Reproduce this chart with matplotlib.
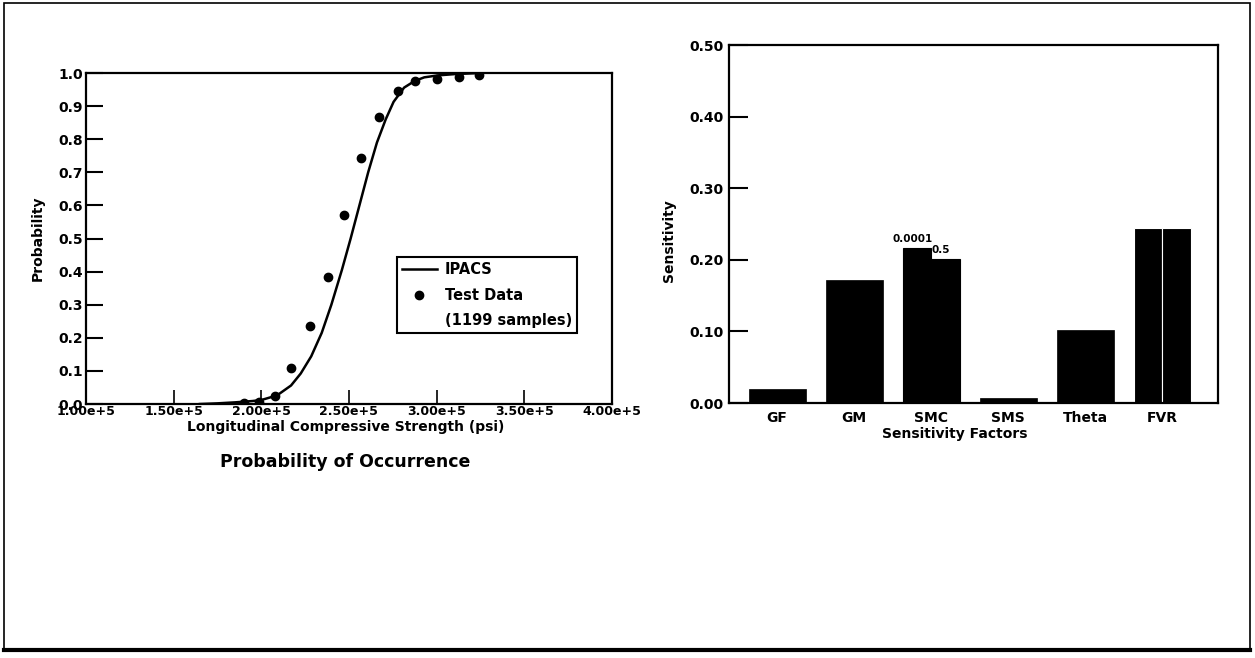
import matplotlib
matplotlib.use("Agg")
import matplotlib.pyplot as plt
from matplotlib.lines import Line2D
from matplotlib.patches import Rectangle

plt.rcParams['font.family'] = ['DejaVu Sans']
plt.rcParams['font.weight'] = 'bold'

# IPACS curve
ipacs_x = [1.65e5, 1.75e5, 1.85e5, 1.95e5, 2.00e5, 2.09e5, 2.17e5, 2.225e5, 2.285e5,
           2.345e5, 2.40e5, 2.46e5, 2.51e5, 2.56e5, 2.61e5, 2.66e5, 2.71e5, 2.755e5,
           2.815e5, 2.875e5, 2.93e5, 3.01e5, 3.11e5, 3.25e5]
ipacs_y = [0.0, 0.002, 0.005, 0.009, 0.012, 0.026, 0.056, 0.092, 0.144,
           0.215, 0.300, 0.405, 0.50, 0.60, 0.70, 0.79, 0.86, 0.913,
           0.956, 0.976, 0.987, 0.993, 0.997, 1.0]

# test data points
test_x = [1.90e5, 1.99e5, 2.08e5, 2.17e5, 2.28e5, 2.38e5, 2.47e5, 2.57e5,
          2.67e5, 2.78e5, 2.88e5, 3.00e5, 3.13e5, 3.24e5]
test_y = [0.003, 0.005, 0.025, 0.11, 0.235, 0.385, 0.57, 0.742,
          0.866, 0.947, 0.975, 0.983, 0.987, 0.995]

x_ticks = [1.0e5, 1.5e5, 2.0e5, 2.5e5, 3.0e5, 3.5e5, 4.0e5]
x_ticklabels = ['1.00e+5', '1.50e+5', '2.00e+5', '2.50e+5', '3.00e+5', '3.50e+5', '4.00e+5']
p_ticks = [0.0, 0.1, 0.2, 0.3, 0.4, 0.5, 0.6, 0.7, 0.8, 0.9, 1.0]

# sensitivity bars; SMC and FVR are drawn as two halves
factors = ['GF', 'GM', 'SMC', 'SMS', 'Theta', 'FVR']
sens_left = [0.020, 0.172, 0.217, 0.007, 0.102, 0.244]
sens_right = [0.020, 0.172, 0.201, 0.007, 0.102, 0.244]
split = [False, False, True, False, False, True]
half_labels = {'SMC': ('0.0001', '0.5')}
s_ticks = [0.0, 0.1, 0.2, 0.3, 0.4, 0.5]

fig = plt.figure(figsize=(12.55, 6.58), dpi=100)

# left: probability of occurrence
ax1 = fig.add_axes([0.0685, 0.386, 0.419, 0.503])
ax1.plot(ipacs_x, ipacs_y, color='black', lw=1.8, label='IPACS')
ax1.plot(test_x, test_y, 'o', color='black', ms=6, label='Test Data')
ax1.set_xlim(1.0e5, 4.0e5)
ax1.set_ylim(0.0, 1.0)
ax1.set_xticks(x_ticks)
ax1.set_xticklabels(x_ticklabels)
ax1.set_yticks(p_ticks)
ax1.set_yticklabels(['%.1f' % v for v in p_ticks])
ax1.tick_params(axis='x', direction='in', length=10, width=1.2, pad=0.5, labelsize=9)
ax1.tick_params(axis='y', direction='in', length=12, width=1.5, pad=2, labelsize=10)
for s in ax1.spines.values():
    s.set_linewidth(1.6)
ax1.set_ylabel('Probability', fontsize=10, fontweight='bold')
ax1.yaxis.set_label_coords(-0.078, 0.5)
ax1.set_xlabel('Longitudinal Compressive Strength (psi)', fontsize=10, fontweight='bold', va='top')
ax1.xaxis.set_label_coords(0.494, -0.047)

handles = [Line2D([], [], color='black', lw=1.8),
           Line2D([], [], color='black', marker='o', ls='none', ms=6),
           Line2D([], [], ls='none')]
leg = ax1.legend(handles, ['IPACS', 'Test Data', '(1199 samples)'],
                 loc='upper left', bbox_to_anchor=(0.591, 0.444), borderaxespad=0,
                 fancybox=False, framealpha=1, edgecolor='black', fontsize=10.5,
                 handlelength=2.4, handletextpad=0.55, labelspacing=0.72,
                 borderpad=0.35)
leg.get_frame().set_linewidth(1.5)

fig.text(0.275, 0.298, 'Probability of Occurrence', fontsize=12.5, fontweight='bold',
         ha='center', va='center')

# right: sensitivity
ax2 = fig.add_axes([0.581, 0.3875, 0.3896, 0.544])
w = 0.74
for i, f in enumerate(factors):
    if not split[i]:
        ax2.bar(i, sens_left[i], w, color='black', edgecolor='black', lw=0.5)
    else:
        edge = 'white' if f == 'FVR' else 'black'
        ax2.bar(i - w / 2, sens_left[i], w / 2, align='edge', color='black', edgecolor=edge, lw=0.8)
        ax2.bar(i, sens_right[i], w / 2, align='edge', color='black', edgecolor=edge, lw=0.8)
        if f in half_labels:
            lab_l, lab_r = half_labels[f]
            ax2.annotate(lab_l, (i - w / 4, sens_left[i]), xytext=(-3, 3), textcoords='offset points',
                         ha='center', va='bottom', fontsize=7.5, fontweight='bold')
            ax2.annotate(lab_r, (i + w / 4, sens_right[i]), xytext=(-3, 3), textcoords='offset points',
                         ha='center', va='bottom', fontsize=7.5, fontweight='bold')

ax2.set_xlim(-0.623, 5.727)
ax2.set_ylim(0.0, 0.5)
ax2.set_xticks(range(len(factors)))
ax2.set_xticklabels(factors)
ax2.set_yticks(s_ticks)
ax2.set_yticklabels(['%.2f' % v for v in s_ticks])
ax2.tick_params(axis='x', length=0, pad=6, labelsize=10)
ax2.tick_params(axis='y', direction='in', length=14, width=1.5, pad=4, labelsize=10)
for s in ax2.spines.values():
    s.set_linewidth(1.6)
ax2.set_ylabel('Sensitivity', fontsize=10, fontweight='bold')
ax2.yaxis.set_label_coords(-0.108, 0.455)
ax2.set_xlabel('Sensitivity Factors', fontsize=10, fontweight='bold', va='top')
ax2.xaxis.set_label_coords(0.462, -0.067)

# page frame
fig.add_artist(Rectangle((0.003, 0.012), 0.993, 0.983, transform=fig.transFigure,
                         fill=False, lw=1.2, color='black'))
fig.add_artist(Line2D([0.003, 0.996], [0.012, 0.012], transform=fig.transFigure,
                      lw=3, color='black'))

fig.savefig('out.png', dpi=100)
